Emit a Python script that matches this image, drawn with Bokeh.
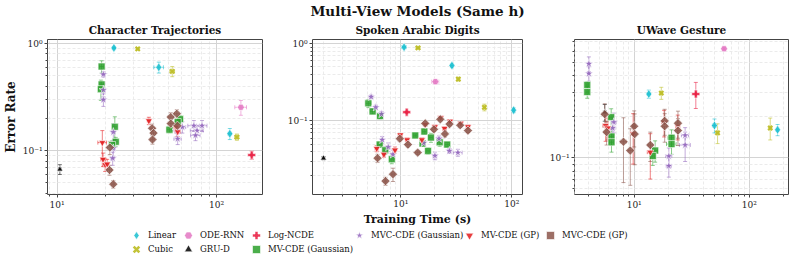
from bokeh.plotting import figure
from bokeh.layouts import column, row
from bokeh.models import (Range1d, FixedTicker, CustomJSTickFormatter, Whisker, TeeHead,
                          ColumnDataSource, Legend, LegendItem, Title)
from bokeh.embed import file_html
from bokeh.resources import INLINE

# ---------------- data: (training time s, error rate, time err, rate err) ----------------
CT_LINEAR = [(22.7, 0.91, 0.4, 0.02), (43.4, 0.60, 3.0, 0.07), (121, 0.144, 3, 0.017)]
CT_CUBIC = [(32, 0.89, 0.6, 0.02), (52.7, 0.55, 1.8, 0.06), (134, 0.134, 4, 0.009)]
CT_ODERNN = [(142, 0.254, 12, 0.04)]
CT_GRUD = [(10.4, 0.067, 0.2, 0.007)]
CT_LOGNCDE = [(166, 0.091, 3, 0.008)]
CT_MV_GAUSS = [(19.0, 0.61, 0.6, 0.08), (19.0, 0.415, 0.5, 0.03), (18.8, 0.375, 0.6, 0.08),
               (23.0, 0.167, 0.8, 0.04), (23.3, 0.121, 0.9, 0.012), (22.1, 0.113, 0.9, 0.01),
               (50.6, 0.157, 2, 0.01), (59, 0.197, 2, 0.015), (57, 0.185, 2, 0.015)]
CT_MVC_GAUSS = [(19.5, 0.515, 0.5, 0.03), (19.5, 0.368, 0.5, 0.05), (19.5, 0.299, 0.5, 0.04),
                (22.5, 0.149, 0.6, 0.03), (22.5, 0.105, 0.6, 0.02), (22.3, 0.085, 0.6, 0.012),
                (56, 0.154, 3, 0.02), (57, 0.129, 3, 0.015), (61, 0.166, 3, 0.02),
                (72, 0.171, 6, 0.02), (75.4, 0.154, 7, 0.015), (73.7, 0.139, 5, 0.015), (81, 0.171, 6, 0.02)]
CT_MV_GP = [(19.2, 0.119, 1.2, 0.035), (19.4, 0.083, 0.6, 0.012), (20.0, 0.074, 0.8, 0.01),
            (20.6, 0.075, 0.5, 0.008), (37.6, 0.19, 0.8, 0.015), (55.5, 0.166, 2, 0.015), (57, 0.15, 2, 0.015)]
CT_MVC_GP = [(21.4, 0.107, 0.8, 0.015), (21.3, 0.066, 0.6, 0.007), (22.5, 0.0487, 0.5, 0.004),
             (39.4, 0.162, 1.2, 0.015), (40.2, 0.146, 1.2, 0.015), (39.6, 0.127, 1.0, 0.012),
             (51.6, 0.206, 2, 0.02), (56.3, 0.221, 2, 0.02), (51.6, 0.179, 2, 0.015), (56.8, 0.171, 2, 0.015)]

SAD_LINEAR = [(10.7, 0.90, 0.5, 0.03), (28.9, 0.52, 0.8, 0.03), (104, 0.138, 2, 0.01)]
SAD_CUBIC = [(14.3, 0.88, 0.6, 0.02), (33, 0.348, 1, 0.02), (56.7, 0.15, 1.5, 0.015)]
SAD_ODERNN = [(20.5, 0.322, 1.5, 0.02)]
SAD_GRUD = [(2.01, 0.033, 0.05, 0.0015)]
SAD_LOGNCDE = [(11.3, 0.13, 0.3, 0.005)]
SAD_MV_GAUSS = [(5.1, 0.169, 0.3, 0.02), (5.57, 0.133, 0.3, 0.01), (6.5, 0.116, 0.3, 0.01),
                (6.45, 0.0495, 0.3, 0.004), (7.24, 0.0418, 0.3, 0.005), (8.3, 0.032, 0.3, 0.004),
                (13.5, 0.065, 0.5, 0.003), (15.7, 0.051, 0.6, 0.004), (16.3, 0.073, 0.6, 0.006),
                (17.6, 0.041, 0.6, 0.004), (18.7, 0.061, 0.7, 0.008), (22.4, 0.053, 1, 0.006),
                (26.2, 0.0495, 1.2, 0.003)]
SAD_MVC_GAUSS = [(5.4, 0.205, 0.2, 0.01), (5.95, 0.15, 0.2, 0.01), (6.7, 0.123, 0.2, 0.01),
                 (6.8, 0.057, 0.2, 0.006), (7.7, 0.046, 0.3, 0.006), (8.5, 0.037, 0.3, 0.005),
                 (16.1, 0.052, 0.6, 0.004), (20.3, 0.0355, 0.8, 0.004), (22.1, 0.059, 1, 0.005),
                 (27.4, 0.041, 1, 0.003), (32.7, 0.039, 3, 0.004)]
SAD_MV_GP = [(6.07, 0.044, 0.2, 0.004), (7.04, 0.037, 0.2, 0.003), (8.86, 0.042, 0.3, 0.004),
             (9.9, 0.066, 0.4, 0.003), (11.4, 0.057, 0.4, 0.003), (15.5, 0.057, 0.5, 0.003),
             (16.6, 0.09, 0.6, 0.004), (20.3, 0.084, 0.7, 0.004), (24.8, 0.08, 0.8, 0.004),
             (22.9, 0.110, 0.8, 0.004), (27.8, 0.099, 1, 0.004), (34.7, 0.093, 1.2, 0.004),
             (40.3, 0.084, 1.5, 0.004)]
SAD_MVC_GP = [(6.17, 0.033, 0.2, 0.004), (7.28, 0.0167, 0.2, 0.002), (8.5, 0.0205, 0.3, 0.004),
              (9.8, 0.059, 0.4, 0.005), (11.6, 0.0495, 0.5, 0.004), (14.2, 0.039, 0.6, 0.002),
              (16.6, 0.093, 0.6, 0.004), (19.9, 0.078, 0.8, 0.005), (22.7, 0.105, 0.8, 0.004),
              (25, 0.068, 1, 0.006), (27.5, 0.091, 1, 0.005), (34.3, 0.088, 1.2, 0.005),
              (40.3, 0.075, 1.5, 0.004)]

UW_LINEAR = [(13.4, 0.292, 0.4, 0.02), (49.8, 0.172, 2, 0.02), (176, 0.16, 5, 0.015)]
UW_CUBIC = [(17.2, 0.297, 0.4, 0.03), (53, 0.152, 1.5, 0.025), (152, 0.165, 3, 0.03)]
UW_ODERNN = [(60.4, 0.625, 1, 0.01)]
UW_GRUD = [(5.55, 0.215, 0.15, 0.03)]
UW_LOGNCDE = [(34.3, 0.292, 0.4, 0.063)]
UW_MV_GAUSS = [(3.91, 0.34, 0.1, 0.02), (3.91, 0.302, 0.1, 0.03), (6.31, 0.198, 0.2, 0.03),
               (6.35, 0.143, 0.25, 0.02), (6.35, 0.13, 0.25, 0.02), (15.2, 0.113, 0.8, 0.02),
               (14.5, 0.103, 0.5, 0.015), (21.1, 0.14, 1.5, 0.02), (21.1, 0.126, 2, 0.02)]
UW_MVC_GAUSS = [(4.04, 0.485, 0.1, 0.06), (4.04, 0.412, 0.1, 0.05), (6.66, 0.182, 0.3, 0.03),
                (6.5, 0.165, 0.3, 0.03), (20, 0.103, 1.2, 0.015), (20, 0.0873, 1, 0.015),
                (27.7, 0.124, 3, 0.03), (27.7, 0.146, 2, 0.02)]
UW_MV_GP = [(5.65, 0.172, 0.3, 0.04), (5.9, 0.165, 0.3, 0.03), (13.8, 0.11, 0.8, 0.04),
            (18.2, 0.182, 0.8, 0.04), (23.9, 0.17, 1, 0.035), (9.8, 0.15, 0.4, 0.06)]
UW_MVC_GP = [(5.55, 0.208, 0.3, 0.04), (5.76, 0.154, 0.3, 0.03), (8.07, 0.131, 0.5, 0.065),
             (9.25, 0.113, 0.4, 0.05), (10, 0.17, 0.3, 0.05), (10.1, 0.149, 0.3, 0.06),
             (13.8, 0.124, 0.6, 0.03), (18.4, 0.186, 0.8, 0.04), (18.4, 0.17, 0.8, 0.04),
             (24, 0.179, 1, 0.04), (24, 0.158, 1, 0.035)]

MODELS = ["Linear", "Cubic", "ODE-RNN", "GRU-D", "Log-NCDE", "MV-CDE (Gaussian)",
          "MVC-CDE (Gaussian)", "MV-CDE (GP)", "MVC-CDE (GP)"]
PANEL_TITLES = ["Character Trajectories", "Spoken Arabic Digits", "UWave Gesture"]
PANEL_DATA = [
    [CT_LINEAR, CT_CUBIC, CT_ODERNN, CT_GRUD, CT_LOGNCDE, CT_MV_GAUSS, CT_MVC_GAUSS, CT_MV_GP, CT_MVC_GP],
    [SAD_LINEAR, SAD_CUBIC, SAD_ODERNN, SAD_GRUD, SAD_LOGNCDE, SAD_MV_GAUSS, SAD_MVC_GAUSS, SAD_MV_GP, SAD_MVC_GP],
    [UW_LINEAR, UW_CUBIC, UW_ODERNN, UW_GRUD, UW_LOGNCDE, UW_MV_GAUSS, UW_MVC_GAUSS, UW_MV_GP, UW_MVC_GP],
]
X_RANGES = [(8.7, 194), (1.6, 125), (3.03, 219)]
Y_RANGES = [(0.039, 1.09), (0.0112, 1.13), (0.054, 0.73)]
X_MAJOR = [10, 100]
Y_MAJOR = [0.01, 0.1, 1]
MINOR = [m * 10.0 ** k for k in range(-3, 3) for m in range(2, 10)]
MAIN_TITLE = "Multi-View Models (Same h)"
NAN = float("nan")

FONT = "DejaVu Serif"
STYLE = {
    "Linear": dict(marker="diamond", color="#17becf", size=9),
    "Cubic": dict(marker="x", color="#bcbd22", size=6),
    "ODE-RNN": dict(marker="hex", color="#e377c2", size=7),
    "GRU-D": dict(marker="triangle", color="#000000", size=6),
    "Log-NCDE": dict(marker="plus", color="#e8183c", size=8),
    "MV-CDE (Gaussian)": dict(marker="square", color="#2ca02c", size=7),
    "MVC-CDE (Gaussian)": dict(marker="star", color="#9467bd", size=9),
    "MV-CDE (GP)": dict(marker="inverted_triangle", color="#e31a1c", size=7),
    "MVC-CDE (GP)": dict(marker="square", color="#8c564b", size=6.5, angle=0.785398),
}

SUP = """
const s = {"-": "\u207b", "0": "\u2070", "1": "\u00b9", "2": "\u00b2", "3": "\u00b3"};
const e = Math.round(Math.log10(tick));
return "10" + String(e).split("").map(c => s[c]).join("");
"""


def scatter_kw(st, legend=False):
    kw = dict(marker=st["marker"], size=st["size"])
    if "angle" in st:
        kw["angle"] = st["angle"]
    if st["marker"] == "x":
        kw.update(line_color=st["color"], line_width=2.6 if legend else 2.2, line_alpha=0.9)
    else:
        kw.update(fill_color=st["color"], fill_alpha=0.85, line_color="white", line_width=0.6)
    return kw


def add_series(p, pts, st):
    xs = [t[0] for t in pts]
    ys = [t[1] for t in pts]
    xe = [t[2] for t in pts]
    ye = [t[3] for t in pts]
    src = ColumnDataSource(dict(
        x=xs, y=ys,
        xl=[a - b for a, b in zip(xs, xe)], xu=[a + b for a, b in zip(xs, xe)],
        yl=[a - b for a, b in zip(ys, ye)], yu=[a + b for a, b in zip(ys, ye)],
    ))
    col = st["color"]
    for dim, base, lo, up in (("height", "x", "yl", "yu"), ("width", "y", "xl", "xu")):
        head = dict(size=4, line_color=col, line_alpha=0.55, line_width=1)
        p.add_layout(Whisker(source=src, base=base, lower=lo, upper=up, dimension=dim,
                             line_color=col, line_alpha=0.55, line_width=1,
                             upper_head=TeeHead(**head), lower_head=TeeHead(**head)))
    p.scatter("x", "y", source=src, **scatter_kw(st))


def style_title(t, size):
    t.align = "center"
    t.text_font = FONT
    t.text_font_size = size
    t.text_font_style = "bold"
    t.text_color = "#111111"


def make_panel(i, width, height, bl, br, bb):
    p = figure(width=width, height=height, x_axis_type="log", y_axis_type="log",
               x_range=Range1d(*X_RANGES[i]), y_range=Range1d(*Y_RANGES[i]),
               output_backend="svg", toolbar_location=None,
               min_border_left=bl, min_border_right=br, min_border_top=38, min_border_bottom=bb)
    p.title.text = PANEL_TITLES[i]
    style_title(p.title, "10.5px")
    p.title.standoff = 7
    xt = FixedTicker(ticks=X_MAJOR, minor_ticks=MINOR)
    yt = FixedTicker(ticks=Y_MAJOR, minor_ticks=MINOR)
    p.xaxis.ticker = xt
    p.yaxis.ticker = yt
    p.xgrid.ticker = xt
    p.ygrid.ticker = yt
    for ax in (p.xaxis, p.yaxis):
        ax.formatter = CustomJSTickFormatter(code=SUP)
        ax.axis_line_color = None
        ax.major_tick_in = 0
        ax.major_tick_out = 3
        ax.minor_tick_in = 0
        ax.minor_tick_out = 2
        ax.major_tick_line_color = "#444444"
        ax.minor_tick_line_color = "#444444"
        ax.major_label_text_font = FONT
        ax.major_label_text_font_size = "9px"
        ax.major_label_text_color = "#222222"
        ax.major_label_standoff = 2
        ax.axis_label_text_font = FONT
        ax.axis_label_text_font_style = "bold"
        ax.axis_label_text_color = "#111111"
        ax.axis_label_standoff = 2
    for g in (p.xgrid, p.ygrid):
        g.grid_line_color = "#d4d4d4"
        g.grid_line_width = 1
        g.minor_grid_line_color = "#ebebeb"
        g.minor_grid_line_dash = "3 2"
    p.outline_line_color = "#444444"
    p.outline_line_width = 1
    p.background_fill_color = "white"
    for name, pts in zip(MODELS, PANEL_DATA[i]):
        add_series(p, pts, STYLE[name])
    return p


p1 = make_panel(0, 284, 228, 42, 22, 30)
p2 = make_panel(1, 262, 228, 22, 24, 30)
p3 = make_panel(2, 247, 228, 22, 5, 30)

p1.yaxis.axis_label = "Error Rate"
p1.yaxis.axis_label_text_font_size = "12px"
p2.xaxis.axis_label = "Training Time (s)"
p2.xaxis.axis_label_text_font_size = "11px"
p2.xaxis.axis_label_standoff = 1
p2.xaxis.major_label_standoff = 1
# main title outermost, panel title next to the frame
p2.title.text = MAIN_TITLE
style_title(p2.title, "13.5px")
p2.title.standoff = 0
sub = Title(text=PANEL_TITLES[1], standoff=7)
style_title(sub, "10.5px")
p2.add_layout(sub, "above")

# ---------------- legend strip ----------------
lf = figure(width=793, height=34, x_range=Range1d(0, 1), y_range=Range1d(0, 1),
            x_axis_type=None, y_axis_type=None, output_backend="svg", toolbar_location=None,
            min_border=0)
lf.outline_line_color = None
lf.xgrid.visible = False
lf.ygrid.visible = False

LEG_POS = {  # (left, bottom) of each legend entry in the strip, pixels
    "Linear": (126, 17), "Cubic": (126, 3),
    "ODE-RNN": (178, 17), "GRU-D": (178, 3),
    "Log-NCDE": (246, 17), "MV-CDE (Gaussian)": (246, 3),
    "MVC-CDE (Gaussian)": (349, 17), "MV-CDE (GP)": (459, 17), "MVC-CDE (GP)": (540, 17),
}
for name in MODELS:
    st = STYLE[name]
    r = lf.scatter(x=[NAN], y=[NAN], **scatter_kw(st, legend=True))
    leg = Legend(items=[LegendItem(label=name, renderers=[r])], location=LEG_POS[name],
                 glyph_width=20, glyph_height=20, label_height=20, label_standoff=2,
                 padding=0, margin=0, spacing=0, border_line_color=None,
                 background_fill_alpha=0, label_text_font=FONT, label_text_font_size="8.5px",
                 label_text_color="#111111")
    lf.add_layout(leg, "center")

layout = column(row(p1, p2, p3), lf)
open("out.html", "w").write(file_html(layout, INLINE))
